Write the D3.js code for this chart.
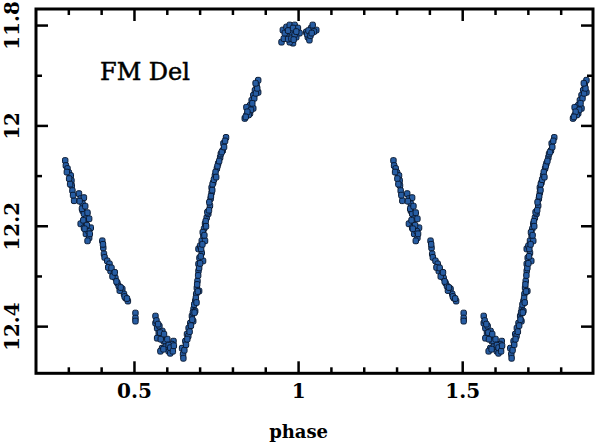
<!DOCTYPE html>
<html>
<head>
<meta charset="utf-8">
<script src="https://cdn.jsdelivr.net/npm/d3@7"></script>
<style>
  body { margin: 0; background: #fff; }
  svg { display: block; }
</style>
</head>
<body>
<div class="graph"></div>
<script>
var width = 597,
    height = 443;

// phase (0..1), magnitude pairs, one cycle
var maxPoints = [
  [0.952,11.809],[0.963,11.803],[0.973,11.799],[0.988,11.799],[0.998,11.805],
  [0.003,11.815],[0.993,11.823],[0.983,11.835],[0.973,11.833],[0.948,11.833],
  [0.963,11.819],[0.978,11.813],[0.955,11.826],[0.958,11.815],[0.968,11.810],
  [0.968,11.827],[0.978,11.826],[0.983,11.805],[0.988,11.818],[0.993,11.812],
  [0.985,11.828],
  [0.023,11.813],[0.028,11.823],[0.038,11.805],[0.054,11.809],[0.043,11.799],
  [0.033,11.829],[0.026,11.817],[0.030,11.810],[0.047,11.812],[0.036,11.820],
  [0.040,11.815]
];

var descPoints = [
  [0.289,12.069],[0.291,12.079],[0.296,12.085],[0.300,12.093],[0.306,12.099],
  [0.308,12.109],[0.309,12.119],[0.311,12.129],[0.316,12.149],[0.294,12.092],
  [0.301,12.105],[0.304,12.116],[0.313,12.138],
  [0.331,12.135],[0.336,12.145],[0.342,12.155],[0.346,12.143],[0.342,12.169],
  [0.346,12.175],[0.357,12.173],[0.352,12.185],[0.362,12.185],[0.336,12.195],
  [0.346,12.203],[0.357,12.205],[0.367,12.203],[0.352,12.215],[0.362,12.223],
  [0.357,12.229],[0.333,12.150],[0.340,12.165],[0.350,12.160],[0.344,12.188],
  [0.355,12.198],[0.360,12.210],[0.348,12.205],[0.364,12.215],
  [0.402,12.229],[0.405,12.243],[0.407,12.255],[0.404,12.236],[0.409,12.262],
  [0.417,12.269],[0.424,12.275],[0.427,12.289],[0.437,12.295],[0.442,12.303],
  [0.448,12.313],[0.452,12.319],[0.463,12.325],[0.468,12.335],[0.473,12.343],
  [0.480,12.349],[0.420,12.282],[0.430,12.283],[0.433,12.300],[0.440,12.292],
  [0.445,12.310],[0.455,12.328],[0.458,12.322],[0.470,12.340],[0.477,12.344],
  [0.503,12.373],[0.503,12.383],[0.503,12.389]
];

var minPoints = [
  [0.564,12.379],[0.564,12.393],[0.569,12.403],[0.574,12.413],[0.584,12.419],
  [0.589,12.429],[0.584,12.443],[0.599,12.439],[0.604,12.449],[0.614,12.445],
  [0.619,12.429],[0.614,12.435],[0.579,12.449],[0.594,12.429],[0.569,12.423],
  [0.576,12.399],[0.585,12.409],[0.600,12.425],[0.609,12.453],[0.567,12.388],
  [0.572,12.395],[0.578,12.412],[0.580,12.425],[0.590,12.415],[0.595,12.440],
  [0.604,12.437],[0.609,12.442],[0.617,12.449],[0.620,12.438],[0.588,12.445]
];

var risePoints = [
  [0.645,12.443],[0.648,12.455],[0.649,12.463],[0.655,12.429],[0.660,12.415],
  [0.665,12.403],[0.670,12.393],[0.675,12.379],[0.680,12.365],[0.685,12.349],
  [0.688,12.335],[0.690,12.323],[0.692,12.309],[0.695,12.289],[0.695,12.275],
  [0.698,12.263],[0.705,12.253],[0.695,12.245],[0.700,12.239],[0.705,12.229],
  [0.710,12.219],[0.712,12.205],[0.715,12.195],[0.720,12.183],[0.725,12.175],
  [0.730,12.159],[0.732,12.145],[0.735,12.133],[0.735,12.123],[0.740,12.113],
  [0.745,12.099],[0.751,12.085],[0.755,12.075],[0.761,12.063],[0.769,12.049],
  [0.771,12.035],[0.779,12.023],
  [0.664,12.419],[0.679,12.389],[0.697,12.329],[0.685,12.369],[0.709,12.269],
  [0.715,12.229],[0.652,12.447],[0.657,12.436],[0.661,12.425],[0.668,12.410],
  [0.672,12.398],[0.676,12.386],[0.678,12.372],[0.682,12.356],[0.683,12.372],
  [0.687,12.343],[0.689,12.352],[0.691,12.316],[0.693,12.330],[0.694,12.298],
  [0.697,12.283],[0.700,12.274],[0.702,12.260],[0.703,12.245],[0.707,12.236],
  [0.708,12.212],[0.713,12.218],[0.717,12.190],[0.718,12.200],[0.722,12.172],
  [0.727,12.168],[0.728,12.152],[0.733,12.140],[0.737,12.128],[0.738,12.116],
  [0.742,12.107],[0.747,12.092],[0.749,12.102],[0.753,12.080],[0.758,12.070],
  [0.763,12.056],[0.766,12.052],[0.773,12.042],[0.776,12.030]
];

var shoulderPoints = [
  [0.877,11.909],[0.872,11.919],[0.867,11.929],[0.862,11.939],[0.857,11.949],
  [0.852,11.959],[0.846,11.969],[0.841,11.979],[0.836,11.985],[0.852,11.975],
  [0.877,11.933],[0.862,11.965],[0.841,11.963],[0.865,11.945],[0.859,11.955],
  [0.855,11.968],[0.848,11.978],[0.844,11.972],[0.870,11.935],[0.874,11.925],
  [0.839,11.982],[0.869,11.915]
];

var xLabelTicks = [0.5, 1, 1.5],
    xMinorTicks = [0.3, 0.4, 0.6, 0.7, 0.8, 0.9, 1.1, 1.2, 1.3, 1.4, 1.6, 1.7, 1.8],
    yLabelTicks = [11.8, 12, 12.2, 12.4],
    yMinorTicks = [11.9, 12.1, 12.3];

var starName = "FM Del";

var frameL = 36, frameR = 593, frameT = 9, frameB = 373.3;

var svg = d3.select(".graph").append("svg")
    .attr("width", width)
    .attr("height", height);

var x = d3.scaleLinear().domain([0.2, 1.9]).range([frameL, frameR + 1]);
var y = d3.scaleLinear().domain([11.767, 12.493]).range([frameT, frameB]);

// every point drawn at its phase and one cycle later, kept inside the window
var allPoints = [].concat(maxPoints, descPoints, minPoints, risePoints, shoulderPoints);
var plotted = [];
allPoints.forEach(function(d) {
  [0, 1].forEach(function(k) {
    var p = d[0] + k;
    if (p >= 0.2 && p <= 1.9) plotted.push({phase: p, mag: d[1]});
  });
});

// small rounded squares, like the original plotting symbol
svg.append("g")
  .selectAll("rect")
  .data(plotted)
  .enter().append("rect")
    .attr("x", function(d) { return x(d.phase) - 2.7; })
    .attr("y", function(d) { return y(d.mag) - 2.9; })
    .attr("width", 5.4)
    .attr("height", 5.8)
    .attr("rx", 1.6)
    .style("fill", "#275da3")
    .style("stroke", "#0a1a33")
    .style("stroke-width", 1);

// frame ticks, long for labelled values, short otherwise
var tickG = svg.append("g")
    .style("stroke", "#000")
    .style("stroke-width", 2.5);

function xTicks(vals, len) {
  vals.forEach(function(v) {
    tickG.append("line").attr("x1", x(v)).attr("x2", x(v)).attr("y1", frameB).attr("y2", frameB - len);
    tickG.append("line").attr("x1", x(v)).attr("x2", x(v)).attr("y1", frameT).attr("y2", frameT + len);
  });
}
function yTicks(vals, len) {
  vals.forEach(function(v) {
    tickG.append("line").attr("x1", frameL).attr("x2", frameL + len).attr("y1", y(v)).attr("y2", y(v));
    tickG.append("line").attr("x1", frameR).attr("x2", frameR - len).attr("y1", y(v)).attr("y2", y(v));
  });
}
xTicks(xLabelTicks, 12);
xTicks(xMinorTicks, 6);
yTicks(yLabelTicks, 12);
yTicks(yMinorTicks, 6);

svg.append("rect")
    .attr("x", frameL)
    .attr("y", frameT)
    .attr("width", frameR - frameL)
    .attr("height", frameB - frameT)
    .style("fill", "none")
    .style("stroke", "#000")
    .style("stroke-width", 3);

var labelFont = "'DejaVu Serif', serif";

svg.append("g")
  .selectAll("text")
  .data(xLabelTicks)
  .enter().append("text")
    .attr("x", function(d) { return x(d); })
    .attr("y", 398)
    .attr("text-anchor", "middle")
    .style("font-family", labelFont)
    .style("font-weight", "bold")
    .style("font-size", "20px")
    .text(function(d) { return d; });

svg.append("g")
  .selectAll("text")
  .data(yLabelTicks)
  .enter().append("text")
    .attr("transform", function(d) { return "translate(19," + y(d) + ") rotate(-90)"; })
    .attr("text-anchor", "middle")
    .style("font-family", labelFont)
    .style("font-weight", "bold")
    .style("font-size", "20px")
    .text(function(d) { return d; });

svg.append("text")
    .attr("x", x(1))
    .attr("y", 438)
    .attr("text-anchor", "middle")
    .style("font-family", labelFont)
    .style("font-weight", "bold")
    .style("font-size", "18px")
    .text("phase");

svg.append("text")
    .attr("x", 100)
    .attr("y", 80)
    .style("font-family", labelFont)
    .style("font-size", "24px")
    .style("stroke", "#000")
    .style("stroke-width", 0.5)
    .text(starName);
</script>
</body>
</html>
